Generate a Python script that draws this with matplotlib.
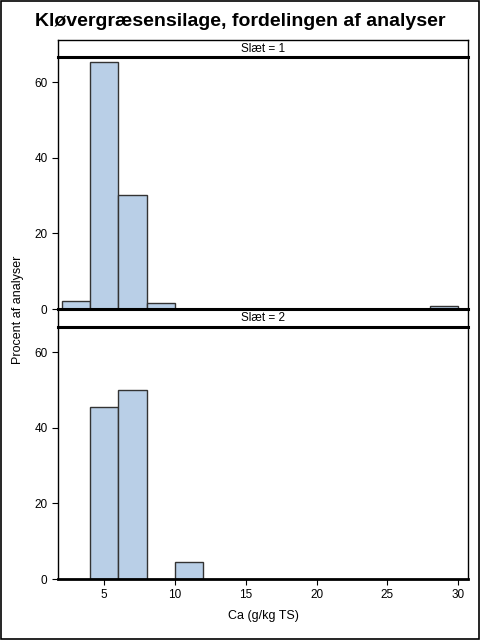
import matplotlib
matplotlib.use("Agg")
import matplotlib.pyplot as plt
from matplotlib.patches import Rectangle

plt.rcParams['font.family'] = ['Liberation Sans', 'DejaVu Sans']

title = "Kløvergræsensilage, fordelingen af analyser"
xlabel = "Ca (g/kg TS)"
ylabel = "Procent af analyser"
panel_labels = ["Slæt = 1", "Slæt = 2"]
bin_edges = [2, 4, 6, 8, 10, 12, 14, 16, 18, 20, 22, 24, 26, 28]
bin_width = 2
slaet1 = [2.2, 65.4, 30.2, 1.5, 0, 0, 0, 0, 0, 0, 0, 0, 0, 0.8]
slaet2 = [0, 45.5, 50.0, 0, 4.4, 0, 0, 0, 0, 0, 0, 0, 0, 0]
xticks = [5, 10, 15, 20, 25, 30]
yticks = [0, 20, 40, 60]

W, H = 480, 640
fig = plt.figure(figsize=(4.8, 6.4), dpi=100)

def fr(x0, y0, x1, y1):
    return [x0 / W, 1 - y1 / H, (x1 - x0) / W, (y1 - y0) / H]

fig.patches.append(Rectangle((0.002, 0.002), 0.996, 0.996, transform=fig.transFigure,
                             fill=False, edgecolor='black', linewidth=1.2))
fig.text(0.5, 1 - 21 / H, title, ha='center', va='center', fontsize=14.0, fontweight='bold')

L, R = 58, 468
panels = [((40, 57), (57, 309), slaet1), ((309, 327), (327, 579), slaet2)]
fill = '#B9CFE7'
for i, ((h0, h1), (p0, p1), vals) in enumerate(panels):
    ax = fig.add_axes(fr(L, p0, R, p1))
    ax.set_facecolor('none')
    xs = [e for e, v in zip(bin_edges, vals) if v > 0]
    vs = [v for v in vals if v > 0]
    ax.bar(xs, vs, width=bin_width, align='edge', color=fill, edgecolor='#333333',
           linewidth=1.0, zorder=2)
    ax.set_xlim(1.73, 30.7)
    ax.set_ylim(0, 66.7)
    ax.set_yticks(yticks)
    ax.tick_params(axis='y', direction='out', length=4, labelsize=8.5, width=0.8)
    ax.spines['top'].set_visible(False)
    for s in ['left', 'right']:
        ax.spines[s].set_linewidth(1.0)
    ax.spines['bottom'].set_linewidth(2.0)
    ax.set_xticks(xticks)
    if i == 0:
        ax.tick_params(axis='x', length=0, labelbottom=False)
    else:
        ax.tick_params(axis='x', direction='out', length=4, labelsize=8.5, width=0.8)
        ax.set_xlabel(xlabel, fontsize=9, labelpad=6)

    hax = fig.add_axes(fr(L, h0, R, h1))
    hax.set_facecolor('none')
    hax.set_xticks([]); hax.set_yticks([])
    for s in hax.spines.values():
        s.set_linewidth(1.0)
    hax.spines['bottom'].set_linewidth(2.2)
    if i == 1:
        hax.spines['top'].set_linewidth(2.2)
    hax.text(0.5, 0.5, panel_labels[i], ha='center', va='center', fontsize=8.5,
             transform=hax.transAxes)

fig.text(18 / W, 1 - 310 / H, ylabel, rotation=90, ha='center', va='center', fontsize=9)

fig.savefig("out.png", dpi=100)
